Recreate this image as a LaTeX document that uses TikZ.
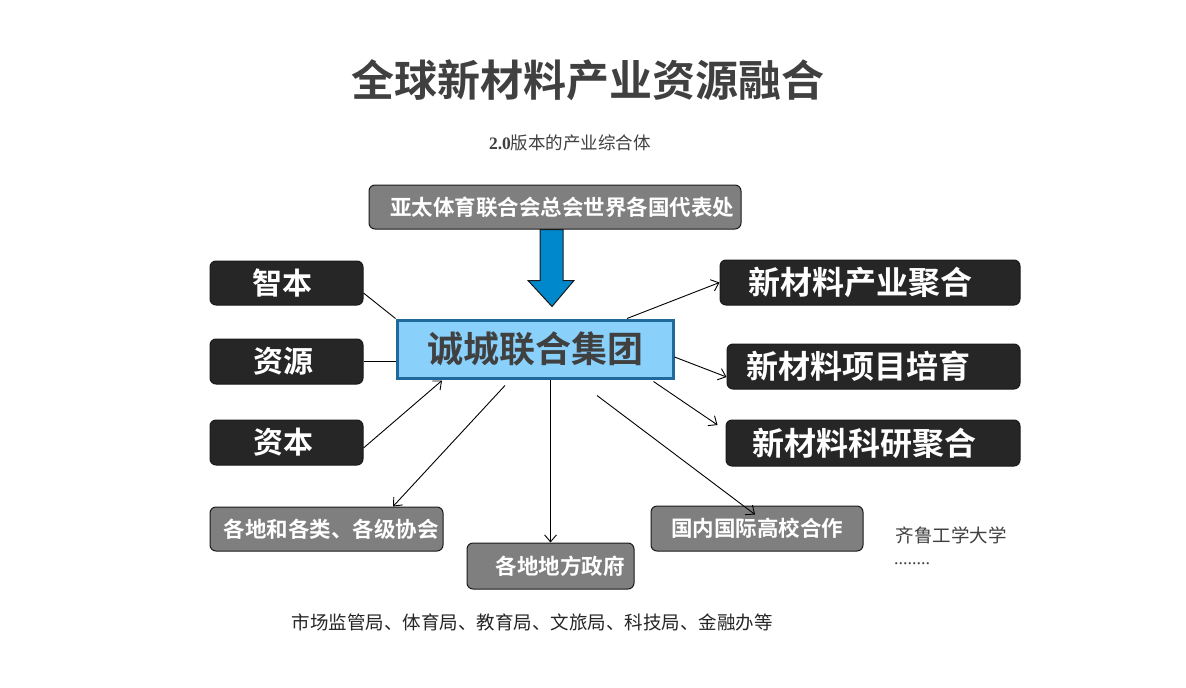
\documentclass[tikz,border=0pt]{standalone}
\usepackage{fontspec}
\setmainfont{Noto Sans CJK SC}[BoldFont={* Bold}]
\newfontfamily\serifnum{Liberation Serif}
\usetikzlibrary{arrows.meta,calc}
\definecolor{boxblack}{HTML}{262626}
\definecolor{boxgray}{HTML}{7F7F7F}
\definecolor{edgedark}{HTML}{1A1A1A}
\definecolor{centerfill}{HTML}{89D0FB}
\definecolor{centeredge}{HTML}{1F6A9A}
\definecolor{arrowblue}{HTML}{0088CC}
\definecolor{textgray}{HTML}{404040}
\tikzset{
  blackbox/.style={draw=edgedark, fill=boxblack, rounded corners=6pt, line width=1pt,
    text=white, font=\bfseries\fontsize{30}{34}\selectfont, inner sep=0pt},
  rightbox/.style={blackbox, font=\bfseries\fontsize{32}{36}\selectfont},
  graybox/.style={draw=edgedark, fill=boxgray, rounded corners=6pt, line width=1pt,
    text=white, font=\bfseries\fontsize{21.5}{25}\selectfont, inner sep=0pt},
  centerbox/.style={draw=centeredge, fill=centerfill, line width=3pt,
    text=textgray, font=\bfseries\fontsize{36}{40}\selectfont, inner sep=0pt},
  conn/.style={draw=black, line width=0.9pt},
  arr/.style={conn, -{Straight Barb[length=7pt,width=12pt,line width=0.9pt]}},
  bigarrow/.style={draw=edgedark, fill=arrowblue, line width=1pt, line join=miter},
  plaintext/.style={text=textgray, inner sep=0pt}
}
\begin{document}
\begin{tikzpicture}[x=1pt,y=-1pt]
\useasboundingbox (0,0) rectangle (1186,688);
\fill[white] (0,0) rectangle (1186,688);

\node[plaintext, font=\bfseries\fontsize{43}{48}\selectfont] (title) at (588,80) {全球新材料产业资源融合};
\node[plaintext, font=\fontsize{17.5}{20}\selectfont] (subtitle) at (570,143) {{\serifnum\bfseries 2.0}版本的产业综合体};

\node[graybox, minimum width=372pt, minimum height=44pt] (top) at (555,207) {\hspace{14pt}亚太体育联合会总会世界各国代表处};

\node[centerbox, minimum width=276pt, minimum height=58pt] (center) at (535,349) {诚城联合集团};

% block arrow from top box to center
\coordinate (tip) at ($(center.north)+(17,-12)$);
\draw[bigarrow] ($(top.south)+(-15,0)$) -- ++(0,51) -- ++(-12,0) -- (tip) -- ($(top.south)+(19,51)$) -- ++(-11,0) -- ($(top.south)+(8,0)$) -- cycle;

\node[blackbox, minimum width=153pt, minimum height=44pt] (zhi) at (286.5,283) {智本\hspace{8pt}\null};
\node[blackbox, minimum width=153pt, minimum height=45pt] (ziyuan) at (286.5,361.5) {资源\hspace{6pt}\null};
\node[blackbox, minimum width=153pt, minimum height=45pt] (ziben) at (286.5,442.5) {资本\hspace{6pt}\null};

\node[rightbox, minimum width=300pt, minimum height=45pt] (r1) at (870,282.5) {新材料产业聚合\hspace{20pt}\null};
\node[rightbox, minimum width=293pt, minimum height=45pt] (r2) at (873.5,366.5) {新材料项目培育\hspace{30pt}\null};
\node[rightbox, minimum width=294pt, minimum height=46pt] (r3) at (873,443) {新材料科研聚合\hspace{17pt}\null};

\node[graybox, minimum width=233pt, minimum height=44pt] (b1) at (326.5,529) {\hspace{9pt}各地和各类、各级协会};
\node[graybox, minimum width=167pt, minimum height=46pt] (b2) at (550.5,566) {\hspace{19pt}各地地方政府};
\node[graybox, minimum width=212pt, minimum height=45pt] (b3) at (757,528.5) {国内国际高校合作};

\node[plaintext, font=\fontsize{18.5}{22}\selectfont] (qilu) at (951,535) {齐鲁工学大学};
\node[plaintext, font=\serifnum\fontsize{18}{20}\selectfont, anchor=base west] (dots) at (894,564) {........};
\node[plaintext, text=black!85, font=\fontsize{18.5}{22}\selectfont] (gov) at (532,622) {市场监管局、体育局、教育局、文旅局、科技局、金融办等};

% connectors
\draw[conn] ([yshift=-10pt]zhi.east) -- (center.north west);
\draw[conn] (ziyuan.east) -- (ziyuan.east -| center.west);
\draw[arr] ([yshift=-5.5pt]ziben.east) -- ([xshift=-93pt,yshift=-1pt]center.south);
\draw[arr] ([xshift=-30pt,yshift=-6pt]center.south) -- ([xshift=66.5pt]b1.north);
\draw[arr] (center.south -| b2.north) -- (b2.north);
\draw[arr] ([xshift=62pt,yshift=-16pt]center.south) -- ([xshift=-2pt,yshift=-9pt]b3.north);
\draw[arr] ([xshift=92pt]center.north) -- (r1.west);
\draw[arr] ([yshift=-8pt]center.east) -- ([yshift=-10.5pt]r2.west);
\draw[arr] ([xshift=-21pt,yshift=-2pt]center.south east) -- ([xshift=-8pt,yshift=18pt]r3.west);
\end{tikzpicture}
\end{document}
